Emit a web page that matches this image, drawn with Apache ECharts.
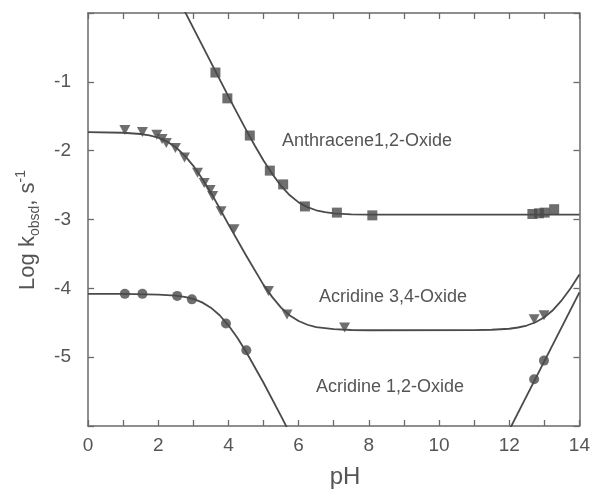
<!DOCTYPE html>
<html><head><meta charset="utf-8">
<script src="https://cdn.jsdelivr.net/npm/echarts@6/dist/echarts.min.js"></script>
<style>html,body{margin:0;padding:0;background:#fff}#c{width:593px;height:493px}</style>
</head><body><div id="c"></div>
<script>
// ---- data ----
const xTickLabels = ['0','2','4','6','8','10','12','14'];
const yTickLabels = ['-1','-2','-3','-4','-5'];

// Anthracene 1,2-Oxide (squares)
const anthPH  = [3.63, 3.97, 4.61, 5.18, 5.56, 6.18, 7.09, 8.10, 12.66, 12.85, 13.01, 13.28];
const anthLog = [-0.865, -1.24, -1.78, -2.29, -2.49, -2.81, -2.90, -2.94, -2.92, -2.91, -2.90, -2.85];
const anthCurvePH  = [2.7, 4.0, 4.25, 4.5, 4.75, 5.0, 5.25, 5.5, 5.75, 6.0, 6.25, 6.5, 6.75, 7.0, 7.5, 8.0, 14];
const anthCurveLog = [0.08, -1.21, -1.455, -1.694, -1.925, -2.143, -2.34, -2.512, -2.648, -2.751, -2.82, -2.866, -2.892, -2.91, -2.925, -2.929, -2.93];

// Acridine 3,4-Oxide (down triangles)
const acr34PH  = [1.05, 1.55, 1.96, 2.11, 2.23, 2.49, 2.75, 3.12, 3.31, 3.48, 3.55, 3.79, 4.16, 5.14, 5.67, 7.31, 12.71, 12.99];
const acr34Log = [-1.70, -1.73, -1.77, -1.83, -1.89, -1.96, -2.10, -2.32, -2.47, -2.57, -2.66, -2.88, -3.14, -4.04, -4.38, -4.57, -4.45, -4.39];
const acr34CurvePH  = [0, 1, 1.5, 1.75, 2, 2.25, 2.5, 2.75, 3, 3.25, 3.5, 3.75, 4, 4.5, 5, 5.25, 5.5, 5.75, 6, 6.25, 6.5, 7, 7.5, 8, 11, 11.5, 12, 12.25, 12.5, 12.75, 13, 13.25, 13.5, 13.75, 14];
const acr34CurveLog = [-1.73, -1.74, -1.758, -1.778, -1.81, -1.867, -1.95, -2.068, -2.22, -2.403, -2.61, -2.836, -3.07, -3.52, -3.95, -4.128, -4.28, -4.394, -4.475, -4.529, -4.563, -4.594, -4.605, -4.609, -4.607, -4.602, -4.587, -4.569, -4.54, -4.493, -4.42, -4.314, -4.17, -3.998, -3.80];

// Acridine 1,2-Oxide (circles)
const acr12PH  = [1.05, 1.55, 2.54, 2.96, 3.93, 4.51, 12.71, 12.99];
const acr12Log = [-4.08, -4.08, -4.11, -4.16, -4.51, -4.90, -5.32, -5.05];
const acr12CurveLowPH  = [0, 1, 2, 2.5, 2.75, 3, 3.25, 3.5, 3.75, 4, 4.25, 4.5, 5, 5.5, 5.8];
const acr12CurveLowLog = [-4.08, -4.081, -4.09, -4.105, -4.123, -4.154, -4.204, -4.281, -4.391, -4.537, -4.715, -4.918, -5.372, -5.857, -6.154];
const acr12CurveHighPH  = [11.9, 14];
const acr12CurveHighLog = [-6.16, -4.06];

const zip = (a, b) => a.map((v, i) => [v, b[i]]);

const FONT = '"Liberation Sans", Arial, Helvetica, sans-serif';
const INK = '#4a4a4a';
const AX = '#6a6a6a';

const chart = echarts.init(document.getElementById('c'));

const axisCommon = {
  axisLine: { show: true, onZero: false, lineStyle: { color: AX, width: 1.5 } },
  axisTick: { show: true, inside: true, length: 6, lineStyle: { color: AX, width: 1.3 } },
  splitLine: { show: false }
};

const lineSeries = (data) => ({
  type: 'line', data, showSymbol: false, smooth: false,
  lineStyle: { color: INK, width: 1.8, join: 'round' }, z: 2, silent: true, clip: true
});

chart.setOption({
  animation: false,
  backgroundColor: '#fff',
  grid: { left: 88, right: 11, top: 13, bottom: 67, containLabel: false },
  xAxis: [
    Object.assign({}, axisCommon, {
      type: 'value', min: 0, max: 14, interval: 1, position: 'bottom',
      axisLabel: {
        color: '#555', fontSize: 19, fontFamily: FONT, margin: 10,
        formatter: v => (v % 2 === 0 ? xTickLabels[v / 2] : '')
      }
    }),
    Object.assign({}, axisCommon, {
      type: 'value', min: 0, max: 14, interval: 1, position: 'top',
      axisLabel: { show: false }
    })
  ],
  yAxis: [
    Object.assign({}, axisCommon, {
      type: 'value', min: -6, max: 0, interval: 1, position: 'left',
      axisLabel: {
        color: '#555', fontSize: 19, fontFamily: FONT, margin: 17,
        formatter: v => { const i = -Math.round(v) - 1; return (i >= 0 && i < yTickLabels.length) ? yTickLabels[i] : ''; }
      }
    }),
    Object.assign({}, axisCommon, {
      type: 'value', min: -6, max: 0, interval: 1, position: 'right',
      axisLabel: { show: false }
    })
  ],
  series: [
    lineSeries(zip(anthCurvePH, anthCurveLog)),
    lineSeries(zip(acr34CurvePH, acr34CurveLog)),
    lineSeries(zip(acr12CurveLowPH, acr12CurveLowLog)),
    lineSeries(zip(acr12CurveHighPH, acr12CurveHighLog)),
    { type: 'scatter', data: zip(anthPH, anthLog), symbol: 'rect', symbolSize: 10,
      itemStyle: { color: INK }, z: 3 },
    { type: 'scatter', data: zip(acr34PH, acr34Log), symbol: 'triangle', symbolRotate: 180, symbolSize: [11, 10],
      itemStyle: { color: INK }, z: 3 },
    { type: 'scatter', data: zip(acr12PH, acr12Log), symbol: 'circle', symbolSize: 10,
      itemStyle: { color: INK }, z: 3 }
  ],
  graphic: [
    { type: 'text', x: 367, y: 141, style: { text: 'Anthracene1,2-Oxide', fill: '#555', font: '18px ' + FONT, align: 'center', verticalAlign: 'middle' } },
    { type: 'text', x: 393, y: 297, style: { text: 'Acridine 3,4-Oxide', fill: '#555', font: '18px ' + FONT, align: 'center', verticalAlign: 'middle' } },
    { type: 'text', x: 390, y: 387, style: { text: 'Acridine 1,2-Oxide', fill: '#555', font: '18px ' + FONT, align: 'center', verticalAlign: 'middle' } },
    { type: 'text', x: 345, y: 477, style: { text: 'pH', fill: '#555', font: '24px ' + FONT, align: 'center', verticalAlign: 'middle' } },
    { type: 'text', x: 28, y: 230, rotation: Math.PI / 2,
      style: {
        text: '{a|Log k}{b|obsd}{a|, s}{c|-1}',
        align: 'center', verticalAlign: 'middle',
        rich: {
          a: { fontSize: 22, fontFamily: FONT, fill: '#555', lineHeight: 28, verticalAlign: 'middle' },
          b: { fontSize: 14, fontFamily: FONT, fill: '#555', lineHeight: 28, verticalAlign: 'bottom' },
          c: { fontSize: 14, fontFamily: FONT, fill: '#555', lineHeight: 28, verticalAlign: 'top' }
        }
      } }
  ]
});
</script></body></html>
